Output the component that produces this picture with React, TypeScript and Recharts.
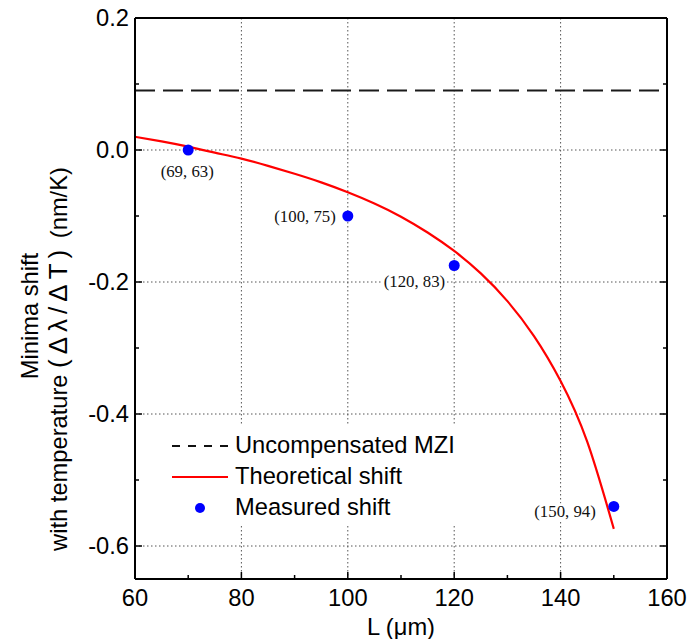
import React from "react";
import { ComposedChart, Line, Scatter, XAxis, YAxis, CartesianGrid, Legend } from "recharts";

document.body.style.margin = "0";

// theoretical curve, every 5 µm
const curveL = [60, 65, 70, 75, 80, 85, 90, 95, 100, 105, 110, 115, 120, 125, 130, 135, 140, 145, 150];
const curveShift = [0.02, 0.013, 0.005, -0.004, -0.013, -0.024, -0.036, -0.049, -0.064, -0.081, -0.101, -0.125, -0.153, -0.187, -0.229, -0.282, -0.35, -0.442, -0.574];

const uncompL = [60, 160];
const uncompShift = [0.09, 0.09];

const measuredL = [70, 100, 120, 150];
const measuredShift = [0.0, -0.1, -0.175, -0.54];
const measuredLabels = ["(69, 63)", "(100, 75)", "(120, 83)", "(150, 94)"];

const xTicks = [60, 70, 80, 90, 100, 110, 120, 130, 140, 150, 160];
const yTicks = [-0.6, -0.5, -0.4, -0.3, -0.2, -0.1, 0, 0.1, 0.2];
const xGrid = [80, 100, 120, 140];
const yGrid = [-0.6, -0.4, -0.2, 0];

const curveData = curveL.map((L, i) => ({ L, v: curveShift[i] }));
const uncompData = uncompL.map((L, i) => ({ L, v: uncompShift[i] }));
const measuredData = measuredL.map((L, i) => ({ L, v: measuredShift[i], label: measuredLabels[i] }));

// where each point label sits relative to its dot
const labelPlacement = [
  { dx: -1, dy: 27, anchor: "middle" },
  { dx: -12, dy: 6, anchor: "end" },
  { dx: -9, dy: 21, anchor: "end" },
  { dx: -18, dy: 11, anchor: "end" },
];

const SANS = "'Liberation Sans', Arial, sans-serif";
const SERIF = "'Liberation Serif', 'Times New Roman', serif";
const FS = 23.7;

const isMajorX = (v: number) => v % 20 === 0;
const isMajorY = (v: number) => Math.round(v * 10) % 2 === 0;

const BottomTick = (props: any) => {
  const { x, y, payload } = props;
  const major = isMajorX(payload.value);
  return (
    <g>
      <line x1={x} y1={y} x2={x} y2={y - (major ? 7 : 4)} stroke="#000" strokeWidth={1.5} />
      {major && (
        <text x={x} y={y + 27} textAnchor="middle" fontFamily={SANS} fontSize={FS} fill="#000">
          {payload.value}
        </text>
      )}
    </g>
  );
};

const TopTick = (props: any) => {
  const { x, y, payload } = props;
  const major = isMajorX(payload.value);
  return <line x1={x} y1={y} x2={x} y2={y + (major ? 7 : 4)} stroke="#000" strokeWidth={1.5} />;
};

const LeftTick = (props: any) => {
  const { x, y, payload } = props;
  const major = isMajorY(payload.value);
  return (
    <g>
      <line x1={x} y1={y} x2={x + (major ? 7 : 4)} y2={y} stroke="#000" strokeWidth={1.5} />
      {major && (
        <text x={x - 6} y={y + 8} textAnchor="end" fontFamily={SANS} fontSize={FS} fill="#000">
          {payload.value.toFixed(1)}
        </text>
      )}
    </g>
  );
};

const RightTick = (props: any) => {
  const { x, y, payload } = props;
  const major = isMajorY(payload.value);
  return <line x1={x} y1={y} x2={x - (major ? 7 : 4)} y2={y} stroke="#000" strokeWidth={1.5} />;
};

const MeasuredDot = (props: any) => {
  const { cx, cy, payload } = props;
  const p = labelPlacement[measuredLabels.indexOf(payload.label)];
  const w = payload.label.length * 6.9 + 2;
  const tx = cx + p.dx;
  const rx = p.anchor === "end" ? tx - w : tx - w / 2;
  return (
    <g>
      <rect x={rx} y={cy + p.dy - 14} width={w} height={18} fill="#fff" />
      <text x={tx} y={cy + p.dy} textAnchor={p.anchor} fontFamily={SERIF} fontSize={16.8} fill="#111">
        {payload.label}
      </text>
      <circle cx={cx} cy={cy} r={5.5} fill="#0000ff" />
    </g>
  );
};

const LegendBox = () => {
  const row = { display: "flex", alignItems: "center", height: 31 } as const;
  const icon = { width: 56, height: 12, marginRight: 7, flex: "none" } as const;
  return (
    <div style={{ fontFamily: SANS, fontSize: FS, color: "#000", background: "#fff", paddingTop: 6, paddingLeft: 22, boxSizing: "border-box", width: "100%", height: "100%", lineHeight: 1 }}>
      <div style={row}>
        <svg style={icon}>
          <line x1={0} y1={6} x2={56} y2={6} stroke="#111" strokeWidth={2} strokeDasharray="8 8" />
        </svg>
        <span>Uncompensated MZI</span>
      </div>
      <div style={row}>
        <svg style={icon}>
          <line x1={0} y1={6} x2={56} y2={6} stroke="#ff0000" strokeWidth={2} />
        </svg>
        <span>Theoretical shift</span>
      </div>
      <div style={row}>
        <svg style={icon}>
          <circle cx={28} cy={6} r={5} fill="#0000ff" />
        </svg>
        <span>Measured shift</span>
      </div>
    </div>
  );
};

const XTitle = () => (
  <text x={401} y={635} textAnchor="middle" fontFamily={SANS} fontSize={FS} fill="#000">
    L (μm)
  </text>
);

const YTitle = () => (
  <g fontFamily={SANS} fontSize={FS} fill="#000">
    <text x={-316} y={38} transform="rotate(-90)" textAnchor="middle">
      Minima shift
    </text>
    <text x={-359} y={67} transform="rotate(-90)" textAnchor="middle">
      with temperature <tspan fontSize={26} letterSpacing={5}>(Δλ/ΔT)</tspan> (nm/K)
    </text>
  </g>
);

export default function App() {
  return (
    <div style={{ position: "relative", width: 688, height: 639, background: "#fff" }}>
      <ComposedChart width={688} height={639} margin={{ top: 17, right: 20, bottom: 0, left: 0 }}>
        <CartesianGrid
          horizontal
          vertical
          verticalValues={xGrid}
          horizontalValues={yGrid}
          stroke="#555"
          strokeDasharray="1.5 2.5"
        />
        <XAxis
          dataKey="L"
          type="number"
          domain={[60, 160]}
          ticks={xTicks}
          interval={0}
          height={60}
          tickSize={0}
          tickMargin={0}
          tickLine={false}
          tick={<BottomTick />}
          axisLine={{ stroke: "#000", strokeWidth: 2 }}
          allowDataOverflow
          label={XTitle}
        />
        <XAxis
          xAxisId="top"
          orientation="top"
          type="number"
          domain={[60, 160]}
          ticks={xTicks}
          interval={0}
          height={1}
          tickSize={0}
          tickMargin={0}
          tickLine={false}
          tick={<TopTick />}
          axisLine={{ stroke: "#000", strokeWidth: 2 }}
          allowDataOverflow
        />
        <YAxis
          dataKey="v"
          type="number"
          domain={[-0.65, 0.2]}
          ticks={yTicks}
          interval={0}
          width={135}
          tickSize={0}
          tickMargin={0}
          tickLine={false}
          tick={<LeftTick />}
          axisLine={{ stroke: "#000", strokeWidth: 2 }}
          allowDataOverflow
          label={YTitle}
        />
        <YAxis
          yAxisId="right"
          orientation="right"
          type="number"
          domain={[-0.65, 0.2]}
          ticks={yTicks}
          interval={0}
          width={1}
          tickSize={0}
          tickMargin={0}
          tickLine={false}
          tick={<RightTick />}
          axisLine={{ stroke: "#000", strokeWidth: 2 }}
          allowDataOverflow
        />
        <Line
          data={uncompData}
          dataKey="v"
          stroke="#1a1a1a"
          strokeWidth={2}
          strokeDasharray="20 8"
          dot={false}
          activeDot={false}
          isAnimationActive={false}
        />
        <Line
          data={curveData}
          dataKey="v"
          type="natural"
          stroke="#ff0000"
          strokeWidth={2.2}
          dot={false}
          activeDot={false}
          isAnimationActive={false}
        />
        <Scatter data={measuredData} dataKey="v" shape={<MeasuredDot />} isAnimationActive={false} />
        <Legend
          layout="horizontal"
          align="center"
          verticalAlign="middle"
          content={<LegendBox />}
          wrapperStyle={{ left: 150, top: 424, width: 314, height: 100 }}
        />
      </ComposedChart>
    </div>
  );
}
